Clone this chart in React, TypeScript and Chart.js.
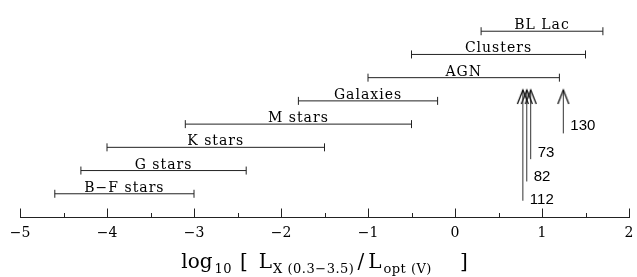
import { useEffect, useRef } from "react";
import { Chart, registerables } from "chart.js";
Chart.register(...registerables);

const CATEGORIES = ["B−F stars", "G stars", "K stars", "M stars", "Galaxies", "AGN", "Clusters", "BL Lac"];
const RANGE_LOW = [-4.6, -4.3, -4.0, -3.1, -1.8, -1.0, -0.5, 0.3];
const RANGE_HIGH = [-3.0, -2.4, -1.5, -0.5, -0.2, 1.2, 1.5, 1.7];
const ROW = [1, 2, 3, 4, 5, 6, 7, 8];

const ARROW_LABELS = ["112", "82", "73", "130"];
const ARROW_X = [0.78, 0.825, 0.87, 1.245];
const ARROW_BOTTOM = [0.7, 1.53, 2.49, 3.6];
const ARROW_TOP = [5.47, 5.47, 5.47, 5.47];
const ARROW_LABEL_Y = [0.58, 1.53, 2.57, 3.75];

const X_MAJOR_TICKS = [-5, -4, -3, -2, -1, 0, 1, 2];
const X_MINOR_TICKS = [-4.5, -3.5, -2.5, -1.5, -0.5, 0.5, 1.5];

const INK = "#222";
const TEXT = "#000";
const SERIF = "'DejaVu Serif', serif";
const SANS = "'Liberation Sans', Arial, sans-serif";

function makeArrowHead(): HTMLCanvasElement {
  const c = document.createElement("canvas");
  c.width = 14;
  c.height = 30;
  const ctx = c.getContext("2d")!;
  ctx.strokeStyle = "#111";
  ctx.lineWidth = 1.3;
  ctx.beginPath();
  ctx.moveTo(1.5, 29);
  ctx.lineTo(7, 15);
  ctx.lineTo(12.5, 29);
  ctx.stroke();
  return c;
}

const decorPlugin = {
  id: "decor",
  afterDraw(chart: any) {
    const ctx = chart.ctx as CanvasRenderingContext2D;
    const xs = chart.scales.x;
    const ys = chart.scales.y;
    const area = chart.chartArea;
    const base = Math.round(area.bottom) + 0.5;

    ctx.save();
    // inward tick marks
    ctx.strokeStyle = INK;
    ctx.lineWidth = 1;
    ctx.beginPath();
    X_MAJOR_TICKS.forEach((v) => {
      const px = Math.round(xs.getPixelForValue(v)) + 0.5;
      ctx.moveTo(px, base);
      ctx.lineTo(px, base - 9);
    });
    X_MINOR_TICKS.forEach((v) => {
      const px = Math.round(xs.getPixelForValue(v)) + 0.5;
      ctx.moveTo(px, base);
      ctx.lineTo(px, base - 4.5);
    });
    ctx.stroke();

    // range labels
    ctx.fillStyle = TEXT;
    ctx.font = `14px ${SERIF}`;
    (ctx as any).letterSpacing = "1px";
    ctx.textAlign = "center";
    ctx.textBaseline = "alphabetic";
    CATEGORIES.forEach((name, i) => {
      const cx = xs.getPixelForValue((RANGE_LOW[i] + RANGE_HIGH[i]) / 2);
      const cy = ys.getPixelForValue(ROW[i]);
      ctx.fillText(name, cx, cy - 2);
    });

    // arrow labels
    (ctx as any).letterSpacing = "0px";
    ctx.font = `15px ${SANS}`;
    ctx.textAlign = "left";
    ARROW_LABELS.forEach((lab, i) => {
      const px = xs.getPixelForValue(ARROW_X[i]);
      const py = ys.getPixelForValue(ARROW_LABEL_Y[i]);
      ctx.fillText(lab, px + 7, py);
    });

    // axis title with subscripts
    const parts: { t: string; sub: boolean; gap: number }[] = [
      { t: "log", sub: false, gap: 2 },
      { t: "10", sub: true, gap: 8 },
      { t: "[", sub: false, gap: 11 },
      { t: "L", sub: false, gap: 1 },
      { t: "X (0.3−3.5)", sub: true, gap: 3 },
      { t: "/", sub: false, gap: 4 },
      { t: "L", sub: false, gap: 2 },
      { t: "opt (V)", sub: true, gap: 28 },
      { t: "]", sub: false, gap: 0 },
    ];
    const mainFont = `20px ${SERIF}`;
    const subFont = `13px ${SERIF}`;
    let total = 0;
    const widths = parts.map((p) => {
      ctx.font = p.sub ? subFont : mainFont;
      (ctx as any).letterSpacing = p.sub ? "0.5px" : "0px";
      const w = ctx.measureText(p.t).width;
      total += w + p.gap;
      return w;
    });
    let x = (area.left + area.right) / 2 - total / 2;
    ctx.textAlign = "left";
    parts.forEach((p, i) => {
      ctx.font = p.sub ? subFont : mainFont;
      (ctx as any).letterSpacing = p.sub ? "0.5px" : "0px";
      ctx.fillText(p.t, x, p.sub ? 273 : 268);
      x += widths[i] + p.gap;
    });
    ctx.restore();
  },
};

export default function App() {
  const ref = useRef<HTMLCanvasElement | null>(null);

  useEffect(() => {
    document.body.style.margin = "0";
    const head = makeArrowHead();
    const rangeSets = CATEGORIES.map((name, i) => ({
      label: name,
      data: [
        { x: RANGE_LOW[i], y: ROW[i] },
        { x: RANGE_HIGH[i], y: ROW[i] },
      ],
      showLine: true,
      borderColor: INK,
      borderWidth: 1,
      pointStyle: "line",
      rotation: 90,
      pointRadius: 4,
      pointHoverRadius: 4,
      pointBorderColor: INK,
      pointBorderWidth: 1,
      clip: false,
    }));
    const arrowSets = ARROW_LABELS.map((lab, i) => ({
      label: lab,
      data: [
        { x: ARROW_X[i], y: ARROW_BOTTOM[i] },
        { x: ARROW_X[i], y: ARROW_TOP[i] },
      ],
      showLine: true,
      borderColor: "#333",
      borderWidth: 1,
      pointStyle: ["circle", head],
      pointRadius: [0, 7],
      pointHoverRadius: [0, 7],
      clip: false,
    }));

    const chart = new Chart(ref.current!, {
      type: "scatter",
      data: { datasets: [...rangeSets, ...arrowSets] as any },
      options: {
        animation: false,
        responsive: false,
        events: [],
        layout: { padding: { left: 20, right: 7, top: 0, bottom: 0 } },
        plugins: { legend: { display: false }, tooltip: { enabled: false } },
        scales: {
          x: {
            type: "linear",
            min: -5,
            max: 2,
            afterFit: (s: any) => {
              s.height = 60;
              s.paddingLeft = 0;
              s.paddingRight = 0;
            },
            grid: { display: false, drawTicks: false },
            border: { display: true, color: INK, width: 1 },
            ticks: {
              stepSize: 1,
              padding: 8,
              maxRotation: 0,
              color: TEXT,
              font: { family: SERIF, size: 14 },
              callback: (v: any) => String(v).replace("-", "−"),
            },
          },
          y: {
            type: "linear",
            min: 0,
            max: 9,
            display: false,
          },
        },
      },
      plugins: [decorPlugin],
    });
    return () => chart.destroy();
  }, []);

  return (
    <div style={{ width: 637, height: 277 }}>
      <canvas ref={ref} width={637} height={277} style={{ display: "block" }} />
    </div>
  );
}
